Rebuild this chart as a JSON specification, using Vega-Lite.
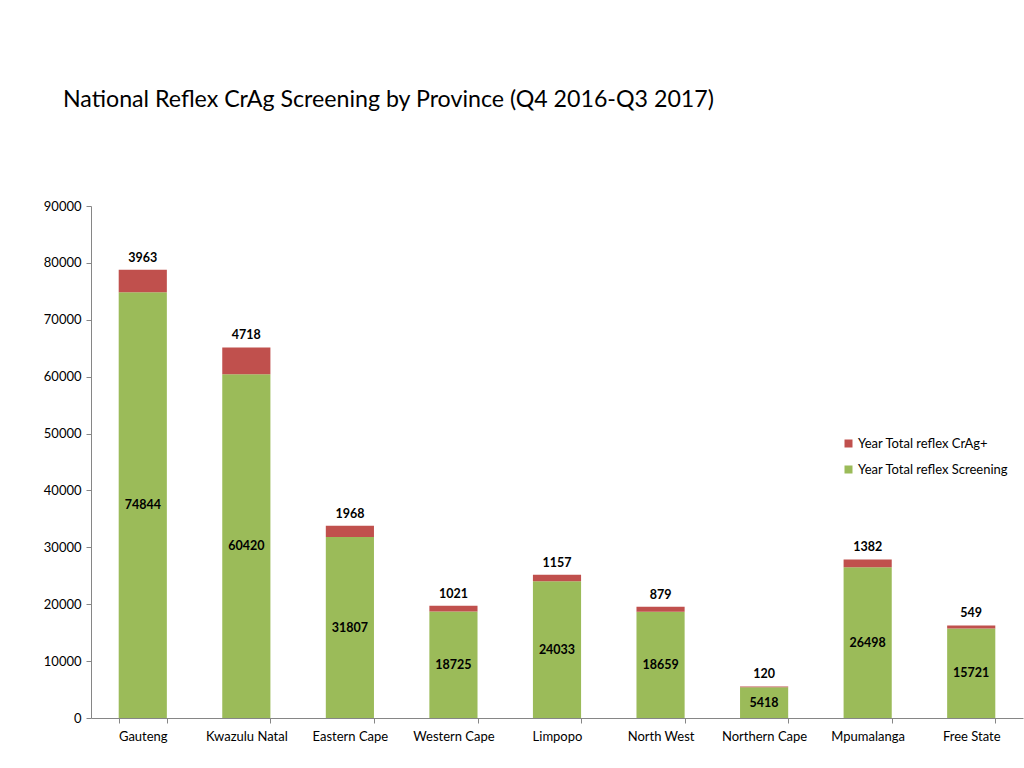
{
  "$schema": "https://vega.github.io/schema/vega-lite/v6.json",
  "autosize": {"type": "none"},
  "padding": {"left": 91, "top": 206, "right": 1, "bottom": 50},
  "width": 932,
  "height": 512,
  "background": "white",
  "config": {
    "font": "Lato",
    "view": {"stroke": null},
    "axis": {"labelFont": "Lato", "labelFontSize": 13, "labelColor": "#000000", "domainColor": "#868686", "tickColor": "#868686", "grid": false, "title": null}
  },
  "title": {
    "text": "National Reflex CrAg Screening by Province (Q4 2016-Q3 2017)",
    "anchor": "start",
    "frame": "group",
    "dx": -28,
    "offset": 88,
    "fontSize": 23.2,
    "fontWeight": "normal",
    "font": "Lato",
    "color": "#000000"
  },
  "data": {
    "values": [
      {"province": "Gauteng", "series": "Year Total reflex Screening", "value": 74844},
      {"province": "Gauteng", "series": "Year Total reflex CrAg+", "value": 3963},
      {"province": "Kwazulu Natal", "series": "Year Total reflex Screening", "value": 60420},
      {"province": "Kwazulu Natal", "series": "Year Total reflex CrAg+", "value": 4718},
      {"province": "Eastern Cape", "series": "Year Total reflex Screening", "value": 31807},
      {"province": "Eastern Cape", "series": "Year Total reflex CrAg+", "value": 1968},
      {"province": "Western Cape", "series": "Year Total reflex Screening", "value": 18725},
      {"province": "Western Cape", "series": "Year Total reflex CrAg+", "value": 1021},
      {"province": "Limpopo", "series": "Year Total reflex Screening", "value": 24033},
      {"province": "Limpopo", "series": "Year Total reflex CrAg+", "value": 1157},
      {"province": "North West", "series": "Year Total reflex Screening", "value": 18659},
      {"province": "North West", "series": "Year Total reflex CrAg+", "value": 879},
      {"province": "Northern Cape", "series": "Year Total reflex Screening", "value": 5418},
      {"province": "Northern Cape", "series": "Year Total reflex CrAg+", "value": 120},
      {"province": "Mpumalanga", "series": "Year Total reflex Screening", "value": 26498},
      {"province": "Mpumalanga", "series": "Year Total reflex CrAg+", "value": 1382},
      {"province": "Free State", "series": "Year Total reflex Screening", "value": 15721},
      {"province": "Free State", "series": "Year Total reflex CrAg+", "value": 549}
    ]
  },
  "encoding": {
    "x": {
      "field": "province",
      "type": "nominal",
      "sort": null,
      "scale": {"paddingInner": 0.535, "paddingOuter": 0.2675},
      "axis": {"labelAngle": 0, "tickBand": "extent", "tickSize": 5, "labelPadding": 7}
    }
  },
  "layer": [
    {
      "layer": [
        {
          "mark": {"type": "bar"},
          "encoding": {
            "y": {
              "field": "value",
              "type": "quantitative",
              "stack": "zero",
              "scale": {"domain": [0, 90000]},
              "axis": {"values": [0, 10000, 20000, 30000, 40000, 50000, 60000, 70000, 80000, 90000], "tickSize": 5, "labelPadding": 5, "format": "d"}
            },
            "color": {
              "field": "series",
              "type": "nominal",
              "scale": {"domain": ["Year Total reflex CrAg+", "Year Total reflex Screening"], "range": ["#C0504D", "#9BBB59"]},
              "legend": {
                "title": null,
                "orient": "none",
                "legendX": 751,
                "legendY": 231,
                "symbolType": "square",
                "symbolSize": 64,
                "symbolStrokeWidth": 0,
                "labelFontSize": 13,
                "labelFont": "Lato",
                "labelColor": "#000000",
                "labelOffset": 3,
                "rowPadding": 12
              }
            },
            "order": {"field": "series", "sort": "descending"}
          }
        },
        {
          "transform": [
            {"stack": "value", "groupby": ["province"], "sort": [{"field": "series", "order": "descending"}], "as": ["v0", "v1"]},
            {"filter": "datum.series == 'Year Total reflex CrAg+'"}
          ],
          "mark": {"type": "text", "baseline": "bottom", "dy": -5, "fontWeight": "bold", "fontSize": 12.5, "color": "#000000", "font": "Lato"},
          "encoding": {
            "y": {"field": "v1", "type": "quantitative"},
            "text": {"field": "value", "type": "quantitative", "format": "d"}
          }
        }
      ]
    },
    {
      "transform": [
        {"filter": "datum.series == 'Year Total reflex Screening'"}
      ],
      "mark": {"type": "text", "baseline": "middle", "fontWeight": "bold", "fontSize": 12.5, "color": "#000000", "font": "Lato"},
      "encoding": {
        "y": {"field": "value", "type": "quantitative", "scale": {"domain": [0, 180000]}, "axis": null},
        "text": {"field": "value", "type": "quantitative", "format": "d"}
      }
    }
  ],
  "resolve": {"scale": {"y": "independent"}}
}
